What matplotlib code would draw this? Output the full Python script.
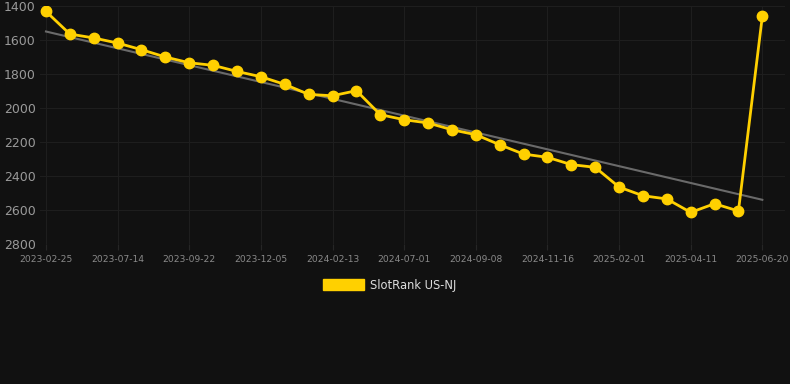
import matplotlib
matplotlib.use("Agg")
import matplotlib.pyplot as plt
from matplotlib.patches import Patch
import numpy as np

# SlotRank US-NJ rank over time (lower number = better, axis inverted)
ranks = [1432, 1565, 1588, 1618, 1657, 1700, 1734, 1749, 1785, 1816,
         1861, 1920, 1928, 1898, 2039, 2069, 2088, 2128, 2157, 2216,
         2271, 2290, 2333, 2349, 2465, 2516, 2535, 2614, 2563, 2606,
         1461]
tick_labels = ["2023-02-25", "2023-07-14", "2023-09-22", "2023-12-05",
               "2024-02-13", "2024-07-01", "2024-09-08", "2024-11-16",
               "2025-02-01", "2025-04-11", "2025-06-20"]
trend_ends = [1550, 2540]

BG = "#111111"
GOLD = "#FFD000"

fig = plt.figure(figsize=(7.9, 3.84), dpi=100, facecolor=BG)
ax = fig.add_axes([40 / 790, 140 / 384, 745 / 790, 238 / 384], facecolor=BG)

x = np.arange(len(ranks))
ax.plot([x[0], x[-1]], trend_ends, color="#6a6a6a", lw=1.5, zorder=2)
ax.plot(x, ranks, color=GOLD, lw=2.0, marker="o", ms=7.5, zorder=3)

ax.set_ylim(2800, 1400)
ax.set_yticks(range(1400, 2801, 200))
ax.set_xlim(-0.25, 30.95)
ax.set_xticks(x[::3])
ax.set_xticklabels(tick_labels)

ax.grid(True, color="#1e1e1e", lw=0.8)
ax.set_axisbelow(True)
for s in ax.spines.values():
    s.set_visible(False)
ax.tick_params(axis="y", length=0, labelsize=9, labelcolor="#9a9a9a", pad=3)
ax.tick_params(axis="x", length=4, color="#262626", labelsize=6.6,
               labelcolor="#8a8a8a", pad=4)

handle = Patch(facecolor=GOLD, edgecolor=GOLD)
fig.legend([handle], ["SlotRank US-NJ"], loc="center",
           bbox_to_anchor=(390 / 790, 1 - 285 / 384), frameon=False,
           fontsize=8.3, labelcolor="#dddddd", handlelength=3.5,
           handleheight=1.0, handletextpad=0.6)

fig.savefig("out.png", dpi=100, facecolor=BG)
